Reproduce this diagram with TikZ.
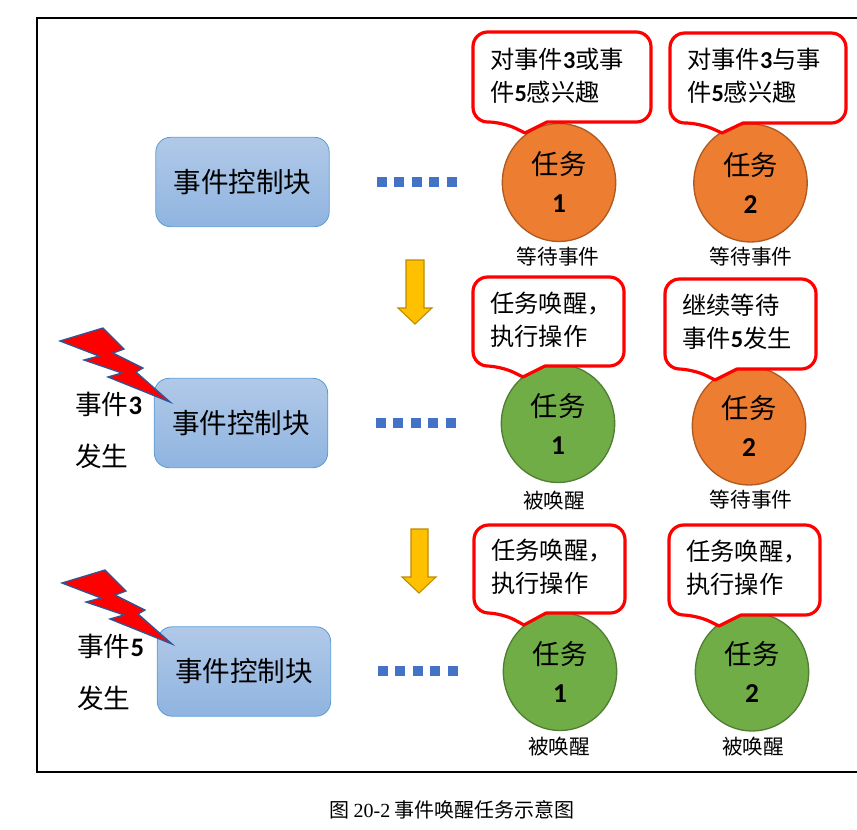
\documentclass[tikz,border=0pt]{standalone}
\usepackage{fontspec}
\setmainfont{Noto Sans CJK SC}
\newfontfamily\digfont{Carlito}[BoldFont=Carlito Bold]
\newfontfamily\serfont{Liberation Serif}
\newcommand{\dg}[1]{{\digfont\bfseries #1}}
\definecolor{orangeF}{HTML}{ED7D31}
\definecolor{orangeB}{HTML}{AE5A21}
\definecolor{greenF}{HTML}{70AD47}
\definecolor{greenB}{HTML}{507E32}
\definecolor{blockT}{HTML}{B1C9E8}
\definecolor{blockB}{HTML}{8FB4E0}
\definecolor{blockL}{HTML}{5B9BD5}
\definecolor{dotsC}{HTML}{4472C4}
\definecolor{arrowF}{HTML}{FFC000}
\definecolor{arrowB}{HTML}{BC8C00}
\definecolor{boltB}{HTML}{2F5597}
\tikzset{
  x=0.75pt,y=-0.75pt,
  block/.style={draw=blockL,line width=0.6pt,top color=blockT,bottom color=blockB,rounded corners=11pt,
    minimum width=130pt,minimum height=67pt,inner sep=0pt,font=\fontsize{20.7}{24}\selectfont},
  taskbase/.style={ellipse,line width=1pt,minimum width=85pt,minimum height=88.5pt,inner sep=0pt,align=center,
    font=\fontsize{20.5}{27.5}\selectfont},
  waitT/.style={taskbase,draw=orangeB,fill=orangeF},
  wokenT/.style={taskbase,draw=greenB,fill=greenF},
  state/.style={inner sep=0pt,font=\fontsize{15.5}{18}\selectfont},
  bubbleline/.style={draw=red,fill=white,line width=2.4pt,line join=round},
  bubbletext/.style={inner sep=0pt,align=left,anchor=west,font=\fontsize{18.2}{24.8}\selectfont},
  side/.style={inner sep=0pt,align=left,anchor=west,font=\fontsize{20}{39}\selectfont},
  dots/.style={draw=dotsC,line width=7.5pt,dash pattern=on 7.5pt off 5.6pt},
  yarrow/.style={draw=arrowB,fill=arrowF,line width=0.8pt,line join=miter},
  bolt/.style={draw=boltB,fill=red,line width=1pt,line join=miter},
}
\usetikzlibrary{shapes.geometric}
\newcommand{\bubble}[8]{%
  \draw[bubbleline,rounded corners=11pt]
    (#5,#4) [sharp corners] -- (#6,#7) -- (#8,#4) [rounded corners=11pt]
    -- (#3,#4) -- (#3,#2) -- (#1,#2) -- (#1,#4) -- cycle;}
\newcommand{\downarrowshape}[6]{%
  \draw[yarrow] (#1,#5) -- (#1,#4) -- (#2,#4) -- (#2,#5) -- (#3,#5) -- ({(#1+#2)/2},#6) -- (#4-#4+#1-#3+#1+#1-#1,#5) -- cycle;}
\begin{document}
\begin{tikzpicture}
\useasboundingbox (0,0) rectangle (857,829);
% frame
\draw[black,line width=1.3pt] (857,18) -- (37,18) -- (37,772) -- (857,772);

% event blocks
\node[block] (b1) at (242.5,182) {事件控制块};
\node[block] (b2) at (241,423) {事件控制块};
\node[block] (b3) at (244,671.5) {事件控制块};

% tasks
\node[waitT] (t11) at (559,182.5) {任务\\[1pt]\dg{1}};
\node[waitT] (t12) at (750.5,183) {任务\\[1pt]\dg{2}};
\node[wokenT] (t21) at (558,423.5) {任务\\[1pt]\dg{1}};
\node[waitT] (t22) at (749,426) {任务\\[1pt]\dg{2}};
\node[wokenT] (t31) at (560,671.5) {任务\\[1pt]\dg{1}};
\node[wokenT] (t32) at (752,672) {任务\\[1pt]\dg{2}};

% dots
\coordinate (d1a) at (377,182); \coordinate (d1b) at (458,182);
\coordinate (d2a) at (376,423); \coordinate (d2b) at (457,423);
\coordinate (d3a) at (378,671); \coordinate (d3b) at (459,671);
\draw[dots] (d1a) -- (d1b);
\draw[dots] (d2a) -- (d2b);
\draw[dots] (d3a) -- (d3b);

% states
\node[state] (s11) at (558,257) {等待事件};
\node[state] (s12) at (751,257) {等待事件};
\node[state] (s21) at (554,501) {被唤醒};
\node[state] (s22) at (751,500) {等待事件};
\node[state] (s31) at (559,747) {被唤醒};
\node[state] (s32) at (753,747) {被唤醒};

% bubbles
\bubble{473}{32}{651}{122}{503}{525}{133}{547}
\node[bubbletext] (q11) at (490,75.5) {对事件\dg{3}或事\\件\dg{5}感兴趣};
\bubble{670}{33}{846}{123}{700}{722}{133}{743}
\node[bubbletext] (q12) at (687,76) {对事件\dg{3}与事\\件\dg{5}感兴趣};
\bubble{473}{277}{624}{366}{501}{523}{377}{545}
\node[bubbletext] (q21) at (490,320) {任务唤醒，\\执行操作};
\bubble{665}{279}{816}{369}{693}{715}{380}{737}
\node[bubbletext] (q22) at (682,322) {继续等待\\事件\dg{5}发生};
\bubble{474}{525}{625}{613}{502}{524}{625}{546}
\node[bubbletext] (q31) at (491,567) {任务唤醒，\\执行操作};
\bubble{669}{525}{820}{615}{697}{719}{626}{741}
\node[bubbletext] (q32) at (686,568) {任务唤醒，\\执行操作};

% block arrows
\draw[yarrow] (406,260) -- (424,260) -- (424,308) -- (432,308) -- (415,324) -- (398,308) -- (406,308) -- cycle;
\draw[yarrow] (411,529) -- (428,529) -- (428,577) -- (436,577) -- (419,593) -- (402,577) -- (411,577) -- cycle;

% lightning
\draw[bolt] (60,341) -- (103,328) -- (124,349) -- (113,353) -- (143,368) -- (136,372) -- (170,402)
  -- (108,377) -- (122,373) -- (84,360) -- (99,356) -- cycle;
\draw[bolt] (62,583) -- (105,570) -- (126,591) -- (115,595) -- (145,610) -- (138,614) -- (172,644)
  -- (110,619) -- (124,615) -- (86,602) -- (101,598) -- cycle;

% side labels
\node[side] (e3) at (75,430) {事件\dg{3}\\发生};
\node[side] (e5) at (77,672) {事件\dg{5}\\发生};

% caption
\node[inner sep=0pt,font=\fontsize{15}{18}\selectfont] (cap) at (452,810) {图 {\serfont 20-2} 事件唤醒任务示意图};
\end{tikzpicture}
\end{document}
